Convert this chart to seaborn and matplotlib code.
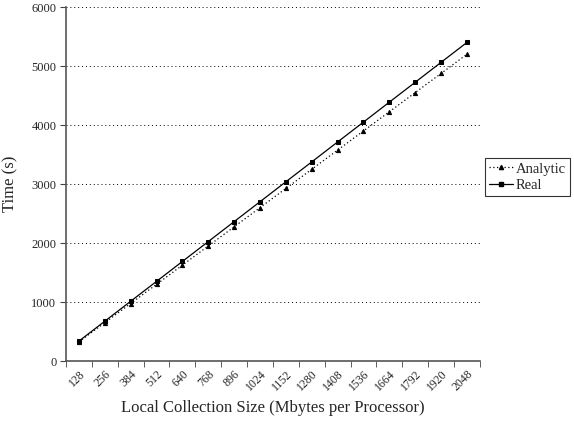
import numpy as np
import pandas as pd
import matplotlib
matplotlib.use("Agg")
import matplotlib.pyplot as plt
import seaborn as sns
from matplotlib.ticker import FixedLocator
from matplotlib.lines import Line2D

# 数据
sizes = ['128', '256', '384', '512', '640', '768', '896', '1024',
         '1152', '1280', '1408', '1536', '1664', '1792', '1920', '2048']
analytic = [325, 650, 975, 1300, 1625, 1950, 2275, 2600,
            2925, 3250, 3575, 3900, 4225, 4550, 4875, 5200]
real = [338, 675, 1013, 1350, 1688, 2025, 2363, 2700,
        3038, 3375, 3713, 4050, 4388, 4725, 5063, 5400]

sns.set_style("white")
plt.rcParams['font.family'] = ['Liberation Serif', 'DejaVu Serif']

pos = np.arange(len(sizes))
df = pd.DataFrame({
    'pos': np.concatenate([pos, pos]),
    'time': analytic + real,
    'series': ['Analytic'] * len(sizes) + ['Real'] * len(sizes),
})

fig = plt.figure(figsize=(5.74, 4.28), dpi=100)
ax = fig.add_axes([0.115, 0.1565, 0.721, 0.827])

sns.lineplot(data=df, x='pos', y='time', hue='series', style='series',
             palette={'Analytic': 'black', 'Real': 'black'},
             dashes={'Analytic': (1, 2), 'Real': ''},
             markers={'Analytic': '^', 'Real': 's'},
             markersize=3, linewidth=0.9, markeredgecolor='black',
             ax=ax, legend=False)

ax.set_xlim(-0.5, len(sizes) - 0.5)
ax.set_ylim(0, 6000)
ax.set_yticks(range(0, 6001, 1000))
ax.yaxis.grid(True, linestyle=(0, (1, 3)), color='black', linewidth=0.7)
ax.set_axisbelow(True)

ax.set_xticks(pos)
ax.set_xticklabels(sizes, rotation=45, ha='right', va='top', fontsize=8.5,
                   rotation_mode='anchor')
ax.xaxis.set_minor_locator(FixedLocator(np.arange(-0.5, len(sizes), 1.0)))
ax.tick_params(axis='x', which='major', length=0, pad=5)
ax.tick_params(axis='x', which='minor', length=4, direction='out', color='#444444', bottom=True)
ax.tick_params(axis='y', length=4, direction='out', color='#444444', labelsize=9, left=True, pad=3)

for s in ['top', 'right']:
    ax.spines[s].set_visible(False)
for s in ['left', 'bottom']:
    ax.spines[s].set_color('#555555')
    ax.spines[s].set_linewidth(1.2)

ax.set_xlabel('Local Collection Size (Mbytes per Processor)', fontsize=12, labelpad=5)
ax.set_ylabel('Time (s)', fontsize=12, labelpad=9)

handles = [
    Line2D([], [], color='black', linestyle=(0, (1, 2)), marker='^', markersize=3, linewidth=0.9),
    Line2D([], [], color='black', linestyle='-', marker='s', markersize=3, linewidth=0.9),
]
leg = fig.legend(handles, ['Analytic', 'Real'], loc='upper left',
                 bbox_to_anchor=(485 / 574, 1 - 158 / 428), fontsize=10.5,
                 frameon=True, fancybox=False, edgecolor='black',
                 handlelength=1.6, handletextpad=0.2, borderpad=0.3,
                 labelspacing=0.2, borderaxespad=0)
leg.get_frame().set_linewidth(0.8)

fig.savefig('out.png', dpi=100)
